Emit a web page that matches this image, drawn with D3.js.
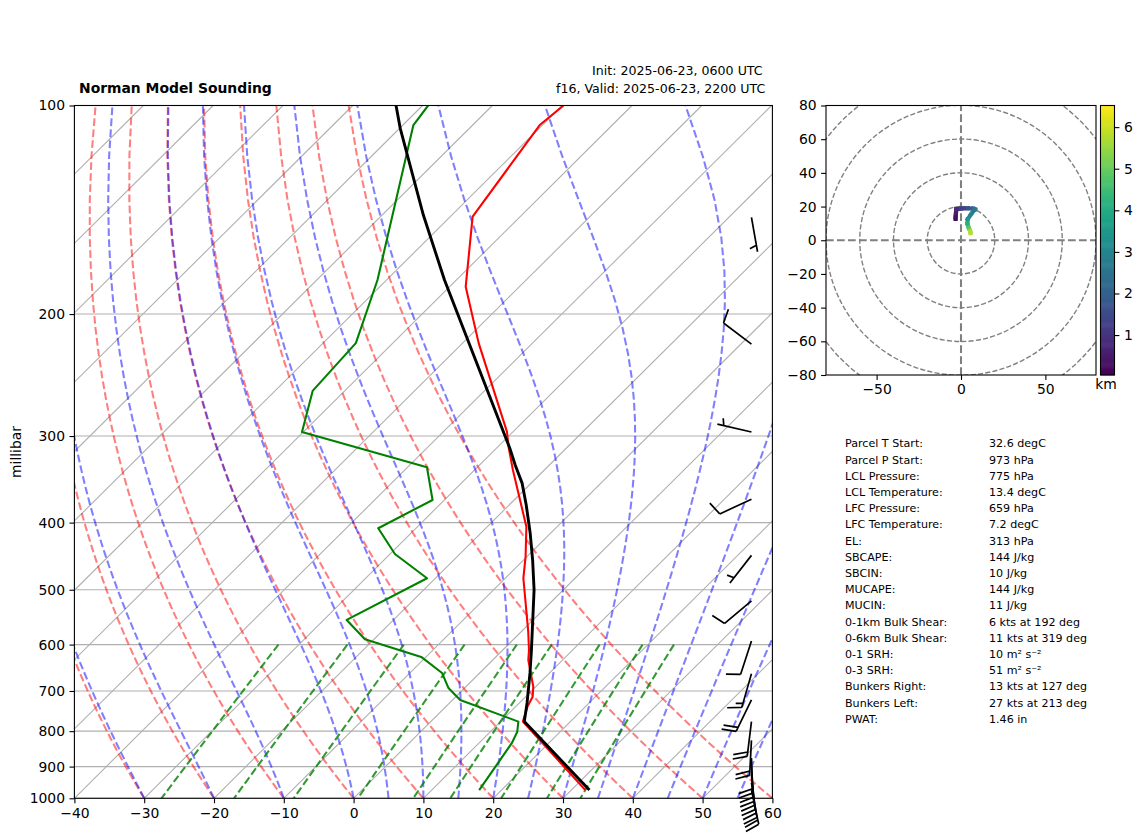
<!DOCTYPE html>
<meta charset="utf-8">

<!-- Load d3.js -->
<script src="https://d3js.org/d3.v7.min.js"></script>

<style>
  body { margin: 0; background: white; }
  text { font-family: "DejaVu Sans", sans-serif; fill: black; }
</style>

<!-- Create a div where the graph will take place -->
<div id="my_dataviz"></div>

<script>

    // temperature trace (hPa, degC)
    var tempP = [100, 106.7, 144.7, 182.6, 220.3, 295.6, 312.6, 335.9, 405.5, 447.9, 481.3, 574.8, 610.9, 631.6, 690.2, 713.4, 737.4, 775, 972.8]
    var tempT = [-69.8, -70.4, -66.8, -57.7, -47.7, -30.9, -28.2, -24.5, -14.4, -10.2, -7.4, 1, 3.75, 5.1, 9.66, 11, 11.7, 13.2, 32]

    // dewpoint trace
    var dewP = [100, 106.7, 178.6, 220.3, 258.2, 296, 332.9, 371, 407.6, 444, 481.3, 552.8, 589.5, 625, 659.3, 693.2, 721.3, 775, 801.5, 832, 889, 973]
    var dewT = [-89.2, -88.5, -71.3, -65.3, -64.6, -60.2, -37.2, -31.7, -35.4, -29.3, -21.2, -26.7, -21.3, -10.7, -5.4, -2.3, 1.1, 12.55, 13.85, 14.7, 15.6, 16.8]

    // parcel trace
    var parcelP = [100, 107.9, 143.9, 178.6, 312.6, 330.3, 350.8, 377.3, 414.5, 453, 500.1, 610.9, 659.3, 728.3, 775, 973]
    var parcelT = [-93.8, -89.9, -74.1, -61.7, -28.05, -24.9, -21.3, -17.55, -12.9, -8.7, -4.2, 4.1, 7.2, 11.1, 13.4, 32.6]

    // wind barbs
    var barbP = [145, 221, 296, 370, 446, 519, 593, 661, 721, 775, 825, 875, 900, 925, 950, 973]
    var barbDir = [170, 307, 283, 245, 218, 230, 198, 196, 206, 187, 183, 178, 176, 174, 171, 168]
    var barbSpeed = [5, 10, 5, 10, 5, 10, 10, 15, 20, 20, 20, 20, 20, 20, 20, 20]

    // hodograph (kts) coloured by height (km)
    var hodoZ = [0.04, 0.2, 0.4, 0.7, 1, 1.5, 2, 2.4, 2.8, 3.2, 3.8, 4.5, 5, 5.6, 6]
    var hodoU = [-3.2, -3.2, -3, -2.8, 0, 4, 7, 8.3, 6, 4, 3.8, 4.5, 5.2, 5.5, 5.6]
    var hodoV = [12.7, 13.6, 16, 18.5, 18.8, 19, 18.8, 18.4, 15.5, 12.5, 10, 7.5, 5.9, 5, 4.2]

    // background lines of the skew-T
    var isotherms = [-130, -120, -110, -100, -90, -80, -70, -60, -50, -40, -30, -20, -10, 0, 10, 20, 30, 40, 50, 60]
    var dryStart = [-40, -30, -20, -10, 0, 10, 20, 30, 40, 50, 60]
    var moistStart = [-40, -30, -20, -10, 0, 5, 10, 15, 20, 25, 30, 35, 40, 45, 50, 55, 60]
    var mixingRatios = [0.0004, 0.001, 0.002, 0.004, 0.007, 0.01, 0.016, 0.024, 0.032]

    // tick labels
    var tempTicks = [-40, -30, -20, -10, 0, 10, 20, 30, 40, 50, 60]
    var presTicks = [100, 200, 300, 400, 500, 600, 700, 800, 900, 1000]
    var hodoXTicks = [-50, 0, 50]
    var hodoYTicks = [-80, -60, -40, -20, 0, 20, 40, 60, 80]
    var hodoRings = [20, 40, 60, 80, 100]
    var cbarTicks = [1, 2, 3, 4, 5, 6]

    // text panel
    var infoLabels = ["Parcel T Start:", "Parcel P Start:", "LCL Pressure:", "LCL Temperature:", "LFC Pressure:", "LFC Temperature:", "EL:", "SBCAPE:", "SBCIN:", "MUCAPE:", "MUCIN:", "0-1km Bulk Shear:", "0-6km Bulk Shear:", "0-1 SRH:", "0-3 SRH:", "Bunkers Right:", "Bunkers Left:", "PWAT:"]
    var infoValues = ["32.6 degC", "973 hPa", "775 hPa", "13.4 degC", "659 hPa", "7.2 degC", "313 hPa", "144 J/kg", "10 J/kg", "144 J/kg", "11 J/kg", "6 kts at 192 deg", "11 kts at 319 deg", "10 m\u00B2 s\u207B\u00B2", "51 m\u00B2 s\u207B\u00B2", "13 kts at 127 deg", "27 kts at 213 deg", "1.46 in"]

    var svg = d3.select("#my_dataviz")
    .append("svg")
      .attr("width", 1142)
      .attr("height", 840)

    var plotLeft = 74.4, plotRight = 772.4, plotTop = 105.5, plotBottom = 798.3

    var defs = svg.append("defs")
    defs.append("clipPath").attr("id", "skewClip").append("rect")
      .attr("x", plotLeft).attr("y", plotTop).attr("width", plotRight - plotLeft).attr("height", plotBottom - plotTop)
    defs.append("clipPath").attr("id", "hodoClip").append("rect")
      .attr("x", 826).attr("y", plotTop).attr("width", 270).attr("height", 375 - plotTop)

    // skew-T scales, isotherms lean a little over 45 degrees
    var x = d3.scaleLinear().domain([-40, 60]).range([plotLeft, plotRight])
    var y = d3.scaleLog().domain([100, 1000]).range([plotTop, plotBottom])
    var skew = 1.0063
    function skewX(t, p) { return x(t) + skew * (y(1000) - y(p)) }

    var line = d3.line()
      .x(function(d) { return skewX(d[1], d[0]) })
      .y(function(d) { return y(d[0]) })

    var plot = svg.append("g").attr("clip-path", "url(#skewClip)")

    plot.selectAll(".isobar").data(presTicks).enter().append("line")
      .attr("x1", plotLeft).attr("x2", plotRight)
      .attr("y1", function(d) { return y(d) })
      .attr("y2", function(d) { return y(d) })
      .attr("stroke", "#b0b0b0").attr("stroke-width", 1.1)
    plot.selectAll(".isotherm").data(isotherms).enter().append("path")
      .attr("d", function(d) { return line([[1000, d], [100, d]]) })
      .attr("fill", "none").attr("stroke", "#b0b0b0").attr("stroke-width", 1.1)

    // thermodynamic reference curves
    var levels = d3.range(50).map(function(i) { return 1000 - i * 900 / 49 })
    var kappa = 0.2857, Rd = 287.05, Cp = 1005, Lv = 2.501e6, eps = 0.622

    function dryCurve(t0) {
      return levels.map(function(p) {
        return [p, (t0 + 273.15) * Math.pow(p / 1000, kappa) - 273.15]
      })
    }
    function moistRate(p, t) {
      var es = 6.112 * Math.exp(17.67 * (t - 273.15) / (t - 29.65))
      var rs = eps * es / (p - es)
      return (Rd * t + Lv * rs) / (Cp + Lv * Lv * rs * eps / (Rd * t * t)) / p
    }
    function moistCurve(t0) {
      var t = t0 + 273.15
      return levels.map(function(p, i) {
        if (i > 0) {
          var h = p - levels[i - 1]
          var p0 = levels[i - 1]
          var k1 = moistRate(p0, t)
          var k2 = moistRate(p0 + h / 2, t + h * k1 / 2)
          var k3 = moistRate(p0 + h / 2, t + h * k2 / 2)
          var k4 = moistRate(p, t + h * k3)
          t = t + h * (k1 + 2 * k2 + 2 * k3 + k4) / 6
        }
        return [p, t - 273.15]
      })
    }
    function mixingCurve(w) {
      return d3.range(11).map(function(i) {
        var p = 600 + i * 40
        var l = Math.log(w * p / (eps + w) / 6.112)
        return [p, 243.5 * l / (17.67 - l)]
      })
    }

    function dashedSet(data, curve, color, alpha) {
      plot.append("g").selectAll("path").data(data).enter().append("path")
        .attr("d", function(d) { return line(curve(d)) })
        .attr("fill", "none")
        .attr("stroke", color)
        .attr("stroke-opacity", alpha)
        .attr("stroke-width", 2.08)
        .attr("stroke-dasharray", "7.7,3.3")
    }
    dashedSet(dryStart, dryCurve, "#ff0000", 0.5)
    dashedSet(moistStart, moistCurve, "#0000ff", 0.5)
    dashedSet(mixingRatios, mixingCurve, "#008000", 0.8)

    // sounding traces
    function trace(ps, ts, color, width) {
      plot.append("path")
        .attr("d", line(ps.map(function(p, i) { return [p, ts[i]] })))
        .attr("fill", "none")
        .attr("stroke", color)
        .attr("stroke-width", width)
        .attr("stroke-linejoin", "round")
    }
    trace(tempP, tempT, "#ff0000", 2.08)
    trace(dewP, dewT, "#008000", 2.08)
    trace(parcelP, parcelT, "#000000", 2.9)

    // wind barbs, not clipped: the lowest ones hang below the axis
    var barbX = x(-40) + 0.97 * (x(60) - x(-40))
    var barbLen = 35, barbH = 14, barbStep = 4.4

    function barbPath(p, dir, speed) {
      var a = dir * Math.PI / 180
      var dx = Math.sin(a), dy = -Math.cos(a)
      var rx = -dy, ry = dx
      var by = y(p)
      var out = d3.path()
      out.moveTo(barbX, by)
      out.lineTo(barbX + dx * barbLen, by + dy * barbLen)
      var full = Math.floor(speed / 10)
      var half = speed % 10 >= 5
      var off = barbLen
      for (var i = 0; i < full; i++) {
        var fx = barbX + dx * off, fy = by + dy * off
        out.moveTo(fx, fy)
        out.lineTo(fx + rx * barbH + dx * barbStep, fy + ry * barbH + dy * barbStep)
        off -= barbStep
      }
      if (half) {
        if (off == barbLen) { off -= 1.5 * barbStep }
        var hx0 = barbX + dx * off, hy0 = by + dy * off
        out.moveTo(hx0, hy0)
        out.lineTo(hx0 + rx * barbH / 2 + dx * barbStep / 2, hy0 + ry * barbH / 2 + dy * barbStep / 2)
      }
      return out.toString()
    }

    svg.append("g").selectAll("path").data(barbP).enter().append("path")
      .attr("d", function(d, i) { return barbPath(d, barbDir[i], barbSpeed[i]) })
      .attr("fill", "none")
      .attr("stroke", "black")
      .attr("stroke-width", 1.7)

    // axes of the skew-T
    function styleAxis(g) {
      g.selectAll("text").style("font-size", "13.9px").style("font-family", '"DejaVu Sans", sans-serif')
      g.selectAll("line").attr("stroke-width", 1.1)
      g.select(".domain").remove()
    }
    svg.append("g")
      .attr("transform", "translate(0," + plotBottom + ")")
      .call(d3.axisBottom(x).tickValues(tempTicks).tickSize(4.9).tickPadding(4.5).tickFormat(d3.format("d")))
      .call(styleAxis)
    svg.append("g")
      .attr("transform", "translate(" + plotLeft + ",0)")
      .call(d3.axisLeft(y).tickValues(presTicks).tickSize(4.9).tickPadding(4.5).tickFormat(d3.format("d")))
      .call(styleAxis)
    svg.append("rect")
      .attr("x", plotLeft).attr("y", plotTop).attr("width", plotRight - plotLeft).attr("height", plotBottom - plotTop)
      .attr("fill", "none").attr("stroke", "black").attr("stroke-width", 1.1)

    svg.append("text")
      .attr("transform", "translate(21,452) rotate(-90)")
      .attr("text-anchor", "middle")
      .style("font-size", "13.9px")
      .text("millibar")

    // titles
    svg.append("text").attr("x", 79).attr("y", 92.5)
      .style("font-size", "13.9px").style("font-weight", "bold")
      .text("Norman Model Sounding")
    svg.append("text").attr("x", 592).attr("y", 74.5)
      .style("font-size", "12.6px")
      .text("Init: 2025-06-23, 0600 UTC")
    svg.append("text").attr("x", 556).attr("y", 92.5)
      .style("font-size", "12.6px")
      .text("f16, Valid: 2025-06-23, 2200 UTC")

    // hodograph
    var hx = d3.scaleLinear().domain([-80, 80]).range([826, 1096])
    var hy = d3.scaleLinear().domain([-80, 80]).range([375, plotTop])
    var viridis = d3.scaleSequential(d3.interpolateViridis).domain([0.04, 6.52])

    var hodo = svg.append("g").attr("clip-path", "url(#hodoClip)")
    hodo.selectAll("circle").data(hodoRings).enter().append("circle")
      .attr("cx", hx(0)).attr("cy", hy(0))
      .attr("r", function(d) { return hx(d) - hx(0) })
      .attr("fill", "none")
      .attr("stroke", "#808080")
      .attr("stroke-width", 1.39)
      .attr("stroke-dasharray", "5.1,2.2")
    hodo.append("line")
      .attr("x1", 826).attr("x2", 1096).attr("y1", hy(0)).attr("y2", hy(0))
      .attr("stroke", "#808080").attr("stroke-width", 2.08).attr("stroke-dasharray", "7.7,3.3")
    hodo.append("line")
      .attr("x1", hx(0)).attr("x2", hx(0)).attr("y1", 375).attr("y2", plotTop)
      .attr("stroke", "#808080").attr("stroke-width", 2.08).attr("stroke-dasharray", "7.7,3.3")

    hodo.selectAll(".seg").data(hodoZ.slice(1)).enter().append("line")
      .attr("x1", function(d, i) { return hx(hodoU[i]) })
      .attr("y1", function(d, i) { return hy(hodoV[i]) })
      .attr("x2", function(d, i) { return hx(hodoU[i + 1]) })
      .attr("y2", function(d, i) { return hy(hodoV[i + 1]) })
      .attr("stroke", function(d, i) { return viridis((hodoZ[i] + d) / 2) })
      .attr("stroke-width", 4.2)
      .attr("stroke-linecap", "square")

    svg.append("g")
      .attr("transform", "translate(0,375)")
      .call(d3.axisBottom(hx).tickValues(hodoXTicks).tickSize(4.9).tickPadding(4.5).tickFormat(d3.format("d")))
      .call(styleAxis)
    svg.append("g")
      .attr("transform", "translate(826,0)")
      .call(d3.axisLeft(hy).tickValues(hodoYTicks).tickSize(4.9).tickPadding(4.5).tickFormat(d3.format("d")))
      .call(styleAxis)
    svg.append("rect")
      .attr("x", 826).attr("y", plotTop).attr("width", 270).attr("height", 375 - plotTop)
      .attr("fill", "none").attr("stroke", "black").attr("stroke-width", 1.1)

    // colorbar
    var cbarY = d3.scaleLinear().domain([0.04, 6.52]).range([375, plotTop])
    var cbarSteps = d3.range(256).map(function(i) { return 0.04 + i * (6.52 - 0.04) / 256 })
    svg.append("g").selectAll("rect").data(cbarSteps).enter().append("rect")
      .attr("x", 1100.5)
      .attr("width", 14)
      .attr("y", function(d) { return cbarY(d) - 270 / 256 - 0.3 })
      .attr("height", 270 / 256 + 0.6)
      .attr("fill", function(d) { return viridis(d) })
    svg.append("g")
      .attr("transform", "translate(1114.5,0)")
      .call(d3.axisRight(cbarY).tickValues(cbarTicks).tickSize(4.9).tickPadding(4.5).tickFormat(d3.format("d")))
      .call(styleAxis)
    svg.append("rect")
      .attr("x", 1100.5).attr("y", plotTop).attr("width", 14).attr("height", 375 - plotTop)
      .attr("fill", "none").attr("stroke", "black").attr("stroke-width", 1.1)
    svg.append("text").attr("x", 1106).attr("y", 389)
      .attr("text-anchor", "middle")
      .style("font-size", "13.9px")
      .text("km")

    // text panel
    var rowY = d3.scaleLinear().domain([0, 17]).range([447.3, 722.7])
    var panel = svg.append("g")
    panel.selectAll(".lab").data(infoLabels).enter().append("text")
      .attr("x", 845)
      .attr("y", function(d, i) { return rowY(i) })
      .style("font-size", "11.1px")
      .text(function(d) { return d })
    panel.selectAll(".val").data(infoValues).enter().append("text")
      .attr("x", 989)
      .attr("y", function(d, i) { return rowY(i) })
      .style("font-size", "11.1px")
      .text(function(d) { return d })

    </script>
